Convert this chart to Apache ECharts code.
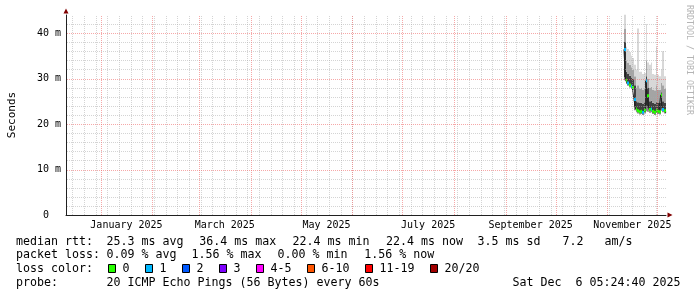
<!DOCTYPE html>
<html><head><meta charset="utf-8">
<script src="https://cdn.jsdelivr.net/npm/echarts@6/dist/echarts.min.js"></script>
<style>html,body{margin:0;padding:0;background:#fff}#c{width:697px;height:297px}</style>
</head><body><div id="c"></div>
<script>
// ---------- data ----------
const DAY = 86400000;
const graphEnd = Date.UTC(2025, 11, 6, 5, 24, 40);
const graphDays = 360;
const graphStart = graphEnd - graphDays * DAY;

const days = ['2025-11-11','2025-11-12','2025-11-13','2025-11-14','2025-11-15','2025-11-16','2025-11-17','2025-11-18','2025-11-19','2025-11-20','2025-11-21','2025-11-22','2025-11-23','2025-11-24','2025-11-25','2025-11-26','2025-11-27','2025-11-28','2025-11-29','2025-11-30','2025-12-01','2025-12-02','2025-12-03','2025-12-04','2025-12-05','2025-12-06'];
const medianRtt = [36.4, 29.6, 29.0, 28.6, 28.3, 28.0, 25.4, 23.3, 22.9, 22.7, 22.8, 22.6, 23.0, 29.5, 26.2, 23.2, 23.3, 22.8, 22.6, 23.0, 22.8, 22.7, 26.4, 23.2, 22.9, 22.4];
const lostPings = [1,0,1,0,1,0,1,0,0,0,0,1,0,1,0,0,1,0,0,0,0,0,0,1,0,0];
const rttMin = [29.6, 28.8, 28.4, 28.0, 27.7, 27.4, 23.0, 22.6, 22.3, 22.1, 22.2, 22.0, 22.3, 22.8, 22.7, 22.5, 22.6, 22.2, 22.0, 22.4, 22.2, 22.1, 22.9, 22.6, 22.3, 21.9];
const rttP25 = [30.3, 29.2, 28.7, 28.3, 28.0, 27.7, 23.8, 23.0, 22.6, 22.4, 22.5, 22.3, 22.6, 24.0, 23.6, 22.9, 23.0, 22.5, 22.3, 22.7, 22.5, 22.4, 23.6, 22.9, 22.6, 22.1];
const rttP75 = [38.0, 31.5, 31.0, 30.6, 30.2, 29.9, 28.5, 25.0, 24.8, 24.6, 24.7, 24.5, 24.8, 30.5, 28.0, 25.0, 25.1, 24.7, 24.5, 24.9, 24.6, 24.6, 27.0, 25.0, 24.7, 24.2];
const rttP90 = [41.0, 34.0, 33.5, 33.0, 32.5, 32.0, 30.5, 28.0, 28.5, 27.8, 27.9, 27.6, 27.8, 34.0, 30.0, 28.0, 28.2, 27.6, 27.4, 28.5, 27.6, 27.5, 29.0, 28.5, 27.7, 27.0];
const rttMax = [44.0, 37.0, 36.5, 35.8, 35.0, 34.5, 33.0, 32.0, 41.0, 31.5, 31.5, 31.0, 31.2, 42.0, 33.5, 33.0, 33.5, 31.0, 30.8, 37.0, 30.8, 30.5, 32.0, 36.0, 30.5, 30.0];

const monthTickLabels = ['January 2025','March 2025','May 2025','July 2025','September 2025','November 2025'];
const monthTickStarts = ['2025-01-01','2025-03-01','2025-05-01','2025-07-01','2025-09-01','2025-11-01'];
const monthGridStarts = ['2025-01-01','2025-02-01','2025-03-01','2025-04-01','2025-05-01','2025-06-01','2025-07-01','2025-08-01','2025-09-01','2025-10-01','2025-11-01','2025-12-01'];
const firstWeekLine = '2024-12-15';
const yMax = 43.96;
const yMajorTicks = [0, 10, 20, 30, 40];
const yTickLabels = ['0  ', '10 m', '20 m', '30 m', '40 m'];
const yMinorStep = 2;

const lossLabels = ['0','1','2','3','4-5','6-10','11-19','20/20'];
const lossColors = ['#26ff00','#00b8ff','#0059ff','#7e00ff','#ff00ff','#ff5500','#ff0000','#a10000'];

const statsRow1 = [['median rtt:',16],['25.3 ms avg',106.5],['36.4 ms max',199.3],['22.4 ms min',292.5],['22.4 ms now',386],['3.5 ms sd',477.5],['7.2   am/s',562.5]];
const statsRow2 = [['packet loss:',16],['0.09 % avg',106.5],['1.56 % max',191.5],['0.00 % min',277.5],['1.56 % now',364.3]];
const probeText = '20 ICMP Echo Pings (56 Bytes) every 60s';
const dateText = 'Sat Dec  6 05:24:40 2025';

// ---------- helpers ----------
function utc(s) { const p = s.split('-').map(Number); return Date.UTC(p[0], p[1] - 1, p[2]); }
const dayTimes = days.map(utc);
function lossBucket(n) {
  if (n <= 3) return n;
  if (n <= 5) return 4;
  if (n <= 10) return 5;
  if (n <= 19) return 6;
  return 7;
}

const smokeRows = [];
for (let i = 0; i < dayTimes.length - 1; i++) {
  smokeRows.push([dayTimes[i], dayTimes[i + 1], rttMin[i], rttP25[i], medianRtt[i], rttP75[i], rttP90[i], rttMax[i], lostPings[i]]);
}
const medianLine = dayTimes.map((t, i) => [t, medianRtt[i]]);

const labelTimes = monthTickStarts.map(s => {
  const p = s.split('-').map(Number);
  const a = Date.UTC(p[0], p[1] - 1, 1), b = Date.UTC(p[0], p[1], 1);
  return (a + b) / 2;
});
const labelMap = {};
labelTimes.forEach((t, i) => { labelMap[t] = monthTickLabels[i]; });

// grid lines: [orientation, value, major]
const gridRows = [];
for (let t = utc(firstWeekLine); t < graphEnd; t += 7 * DAY) gridRows.push([0, t, 0]);
for (let v = yMinorStep; v < yMax; v += yMinorStep) if (v % 10 !== 0) gridRows.push([1, v, 0]);
monthGridStarts.forEach(s => gridRows.push([0, utc(s), 1]));
yMajorTicks.forEach(v => { if (v > 0) gridRows.push([1, v, 1]); });

const smokeShades = ['#8c8c8c', '#2e2e2e', '#404040', '#a4a4a4', '#d8d8d8'];
const MONO = 'DejaVu Sans Mono';

// ---------- graphics (legend text) ----------
const graphics = [];
function txt(s, x, y, size, color) {
  graphics.push({ type: 'text', x: x, y: y, silent: true,
    style: { text: s, fill: color || '#000', font: size + 'px "' + MONO + '"', align: 'left', verticalAlign: 'middle' } });
}
statsRow1.forEach(r => txt(r[0], r[1], 241.5, 11.63));
statsRow2.forEach(r => txt(r[0], r[1], 255, 11.63));
txt('loss color:', 16, 268.5, 11.63);
const boxX = [108.5, 145.5, 182.5, 219.5, 256.5, 307.5, 365.5, 430.5];
lossLabels.forEach((l, i) => {
  graphics.push({ type: 'rect', silent: true, shape: { x: boxX[i], y: 264.5, width: 7, height: 8 },
    style: { fill: lossColors[i], stroke: '#000', lineWidth: 1 } });
  txt(l, boxX[i] + 14, 268.5, 11.63);
});
txt('probe:', 16, 282.5, 11.63);
txt(probeText, 106.5, 282.5, 11.63);
txt(dateText, 512.5, 282.5, 11.63);
graphics.push({ type: 'text', x: 689, y: 5, rotation: -Math.PI / 2, silent: true,
  style: { text: 'RRDTOOL / TOBI OETIKER', fill: '#b4b4b4', font: '8.3px "' + MONO + '"', align: 'left', verticalAlign: 'middle' } });

// ---------- chart ----------
const chart = echarts.init(document.getElementById('c'), null, { renderer: 'canvas', width: 697, height: 297 });
const baseX = { type: 'value', position: 'bottom', min: graphStart, max: graphEnd, splitLine: { show: false }, axisTick: { show: false } };
const baseY = { type: 'value', position: 'left', min: 0, max: yMax, interval: 10, splitLine: { show: false }, axisTick: { show: false } };

chart.setOption({
  animation: false,
  backgroundColor: '#ffffff',
  grid: { left: 66, top: 15, width: 600, height: 200, containLabel: false, outerBoundsMode: 'none' },
  xAxis: [
    Object.assign({}, baseX, {
      axisLine: { show: true, onZero: false, lineStyle: { color: '#202020', width: 1 } },
      axisLabel: { show: true, customValues: labelTimes, formatter: v => labelMap[v] || '',
        fontFamily: MONO, fontSize: 10, color: '#000', margin: 5, hideOverlap: false }
    }),
    Object.assign({}, baseX, {
      axisLine: { show: true, onZero: false, symbol: ['none', 'triangle'], symbolSize: [5, 5], symbolOffset: [0, 4],
        lineStyle: { color: '#800000', width: 0 } },
      axisLabel: { show: false }
    })
  ],
  yAxis: [
    Object.assign({}, baseY, {
      name: 'Seconds', nameLocation: 'middle', nameRotate: 90, nameGap: 48,
      nameTextStyle: { fontFamily: MONO, fontSize: 11, color: '#000' },
      axisLine: { show: true, onZero: false, lineStyle: { color: '#202020', width: 1 } },
      axisLabel: { show: true, fontFamily: MONO, fontSize: 10, color: '#000', margin: 5,
        formatter: v => { const k = yMajorTicks.indexOf(v); return k >= 0 ? yTickLabels[k] : ''; } }
    }),
    Object.assign({}, baseY, {
      axisLine: { show: true, onZero: false, symbol: ['none', 'triangle'], symbolSize: [5, 5], symbolOffset: [0, 4],
        lineStyle: { color: '#800000', width: 0 } },
      axisLabel: { show: false }
    })
  ],
  graphic: graphics,
  series: [
    {
      name: 'smoke', type: 'custom', z: 2, silent: true,
      data: smokeRows,
      encode: { x: [0, 1], y: [2, 3, 4, 5, 6, 7] },
      renderItem: (params, api) => {
        const t0 = api.value(0), t1 = api.value(1);
        const x0 = Math.round(api.coord([t0, 0])[0]);
        const x1 = Math.round(api.coord([t1, 0])[0]);
        const vals = [api.value(2), api.value(3), api.value(4), api.value(5), api.value(6), api.value(7)];
        const children = [];
        for (let k = 0; k < 5; k++) {
          const ya = api.coord([t0, vals[k]])[1], yb = api.coord([t0, vals[k + 1]])[1];
          children.push({ type: 'rect', shape: { x: x0, y: yb, width: x1 - x0, height: ya - yb },
            style: { fill: smokeShades[k] } });
        }
        return { type: 'group', children: children };
      }
    },
    {
      name: 'median', type: 'line', z: 3, step: 'end', symbol: 'none', silent: true,
      data: medianLine, lineStyle: { color: '#202020', width: 1 }
    },
    {
      name: 'loss', type: 'custom', z: 4, silent: true,
      data: smokeRows,
      encode: { x: [0, 1], y: 4 },
      renderItem: (params, api) => {
        const t0 = api.value(0), t1 = api.value(1);
        const x0 = Math.round(api.coord([t0, 0])[0]);
        const x1 = Math.round(api.coord([t1, 0])[0]);
        const y = api.coord([t0, api.value(4)])[1];
        return { type: 'rect', shape: { x: x0, y: y - 1.5, width: x1 - x0, height: 3 },
          style: { fill: lossColors[lossBucket(api.value(8))] } };
      }
    },
    {
      name: 'grid', type: 'custom', z: 5, silent: true, clip: false,
      data: gridRows,
      encode: { x: 1 },
      renderItem: (params, api) => {
        const orient = api.value(0), v = api.value(1), major = api.value(2);
        const stroke = major ? 'rgba(240,110,110,0.6)' : 'rgba(170,170,170,0.5)';
        let shape;
        if (orient === 0) {
          const x = Math.round(api.coord([v, 0])[0]) + 0.5;
          shape = { x1: x, y1: api.coord([v, 0])[1], x2: x, y2: api.coord([v, yMax])[1] };
        } else {
          const y = Math.round(api.coord([graphStart, v])[1]) + 0.5;
          shape = { x1: api.coord([graphStart, v])[0] + 1, y1: y, x2: api.coord([graphEnd, v])[0], y2: y };
        }
        return { type: 'line', shape: shape, style: { stroke: stroke, lineWidth: 1, lineDash: [1, 1] } };
      }
    }
  ]
});
</script>
</body></html>
